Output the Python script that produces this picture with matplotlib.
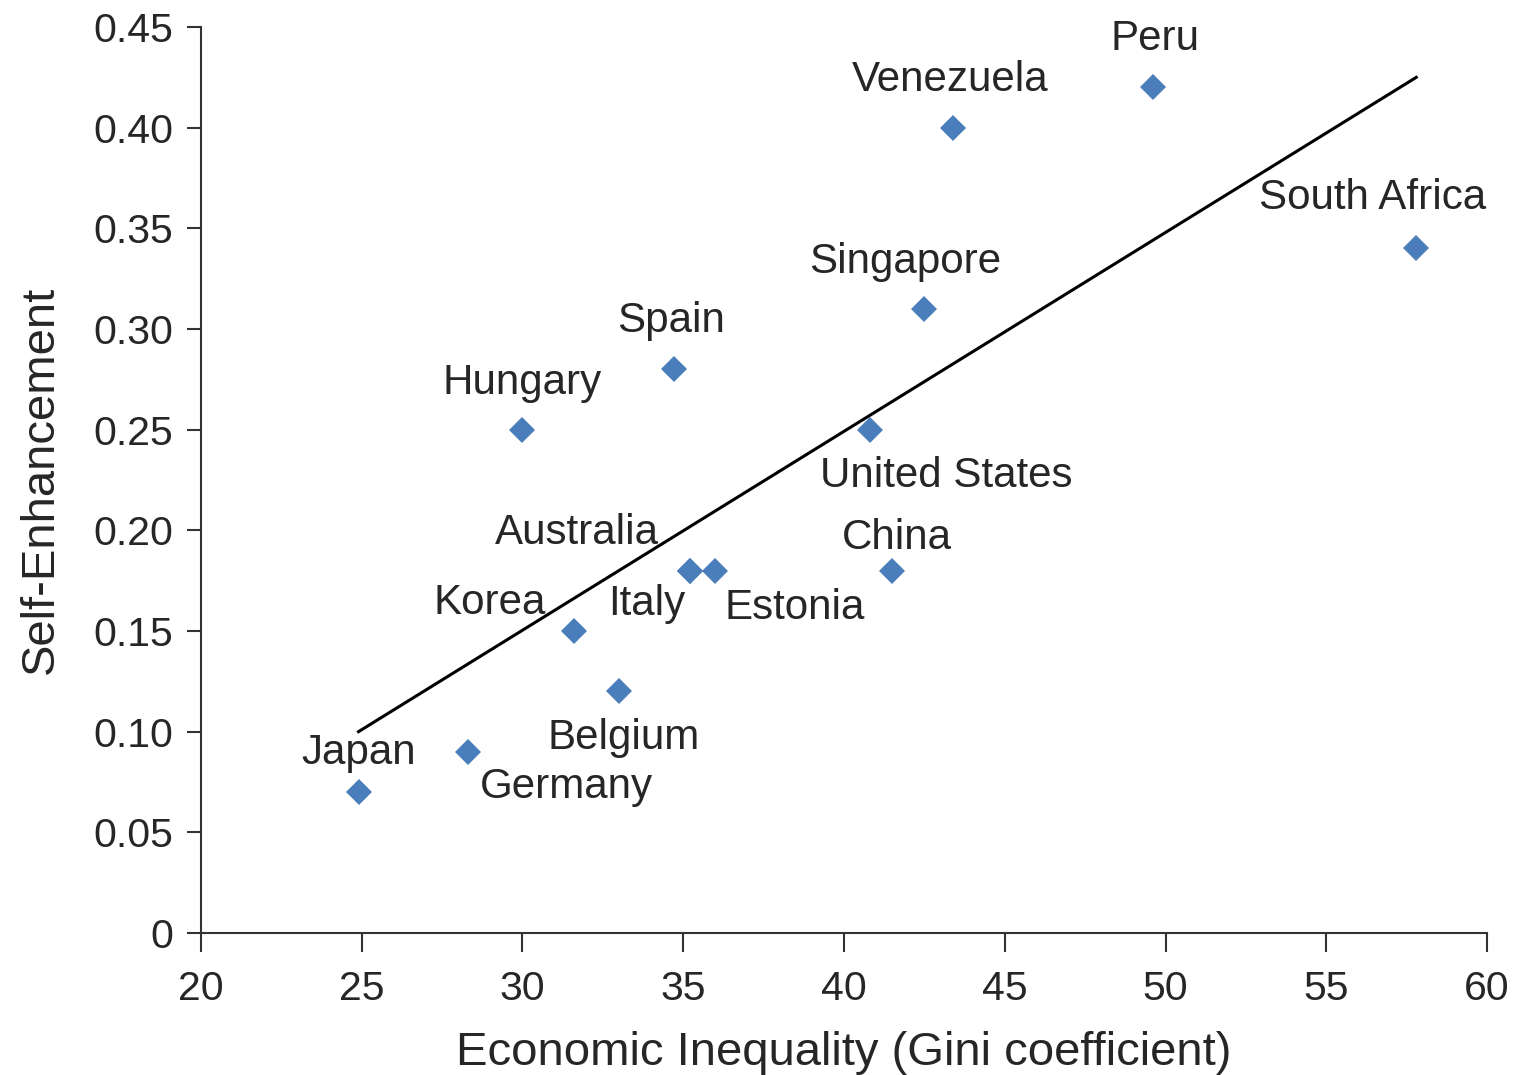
import matplotlib
matplotlib.use("Agg")
import matplotlib.pyplot as plt

countries = ["Japan", "Germany", "Belgium", "Korea", "Italy", "Australia", "Estonia",
             "China", "United States", "Hungary", "Spain", "Singapore", "Venezuela",
             "Peru", "South Africa"]
gini = [24.9, 28.3, 33.0, 31.6, 35.2, 35.2, 36.0, 41.5, 40.8, 30.0, 34.7, 42.5, 43.4, 49.6, 57.8]
self_enh = [0.07, 0.09, 0.12, 0.15, 0.18, 0.18, 0.18, 0.18, 0.25, 0.25, 0.28, 0.31, 0.40, 0.42, 0.34]
trend_x = [24.9, 57.8]
trend_y = [0.10, 0.425]
x_ticks = [20, 25, 30, 35, 40, 45, 50, 55, 60]
y_ticks = [0, 0.05, 0.10, 0.15, 0.20, 0.25, 0.30, 0.35, 0.40, 0.45]
y_tick_labels = ["0", "0.05", "0.10", "0.15", "0.20", "0.25", "0.30", "0.35", "0.40", "0.45"]

# label offsets (pixels) of text centre from marker
offsets = {
    "Japan": (0, 39), "Germany": (99, -35), "Belgium": (5, -47), "Korea": (-84, 28),
    "Italy": (-43, -33), "Australia": (-113, 38), "Estonia": (79, -37), "China": (5, 33),
    "United States": (77, -46), "Hungary": (0, 47), "Spain": (-3, 48), "Singapore": (-19, 47),
    "Venezuela": (-3, 48), "Peru": (2, 48), "South Africa": (-44, 50),
}

plt.rcParams['font.family'] = ['Liberation Sans', 'DejaVu Sans']
text_color = '#262626'
fs = 30.3
fs_tick = 29.5
fs_label = 34

fig = plt.figure(figsize=(15.18, 10.75), dpi=100)
ax = fig.add_axes([0.1324, 0.1321, 0.8472, 0.8428])

ax.plot(trend_x, trend_y, color='black', lw=2.2, zorder=2)
ax.plot(gini, self_enh, linestyle='none', marker='D', markersize=13,
        color='#4a7ebb', markeredgewidth=0, zorder=3)

for c, x, y in zip(countries, gini, self_enh):
    dx, dy = offsets[c]
    ax.annotate(c, (x, y), xytext=(dx, dy), textcoords='offset pixels',
                ha='center', va='center', fontsize=fs, color=text_color)

ax.set_xlim(20, 60)
ax.set_ylim(0, 0.45)
ax.set_xticks(x_ticks)
ax.set_yticks(y_ticks)
ax.set_yticklabels(y_tick_labels)
ax.tick_params(direction='out', width=1.5, labelsize=fs_tick, colors='#333333',
               labelcolor=text_color)
ax.tick_params(axis='x', length=14, pad=13)
ax.tick_params(axis='y', length=10, pad=10)
for s in ['top', 'right']:
    ax.spines[s].set_visible(False)
for s in ['left', 'bottom']:
    ax.spines[s].set_linewidth(1.5)
    ax.spines[s].set_color('#333333')

ax.set_xlabel("Economic Inequality (Gini coefficient)", fontsize=fs_label, color=text_color, labelpad=16)
ax.set_ylabel("Self-Enhancement", fontsize=fs_label, color=text_color, labelpad=22)

fig.savefig("out.png", dpi=100)
